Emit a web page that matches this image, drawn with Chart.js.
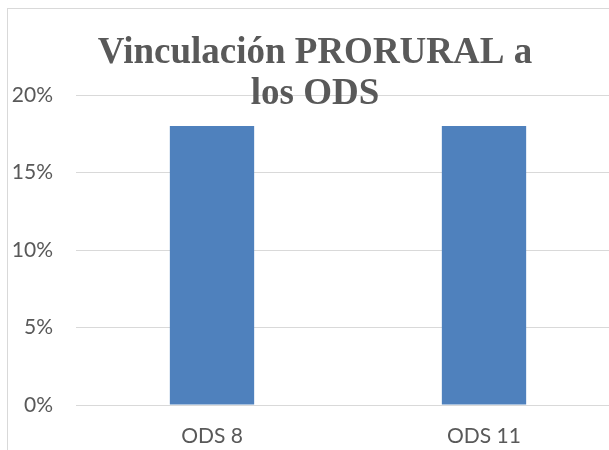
<!DOCTYPE html>
<html>
<head>
<meta charset="utf-8">
<script src="https://cdn.jsdelivr.net/npm/chart.js@4/dist/chart.umd.min.js"></script>
<style>
  html, body { margin: 0; padding: 0; background: #fff; overflow: hidden; }
  #caja { position: absolute; left: 7px; top: 8px; width: 614px; height: 460px; border: 1px solid #d9d9d9; }
</style>
</head>
<body>
<div id="caja"><canvas id="grafico" width="614" height="460"></canvas></div>
<script>
// Datos del gráfico
const categorias = ['ODS 8', 'ODS 11'];
const valores = [0.18, 0.18];
const tituloLineas = ['Vinculación PRORURAL a', 'los ODS'];

const gris = '#595959';
const fuenteTitulo = 'bold 37px "Liberation Serif", "Times New Roman", serif';

// Título dibujado encima del área del gráfico (se superpone a la línea del 20%)
const tituloPlugin = {
  id: 'tituloPlugin',
  afterDraw(chart) {
    const ctx = chart.ctx;
    ctx.save();
    ctx.font = fuenteTitulo;
    ctx.fillStyle = gris;
    ctx.textAlign = 'center';
    ctx.textBaseline = 'alphabetic';
    const cx = chart.width / 2;
    ctx.fillText(tituloLineas[0], cx, 54);
    ctx.fillText(tituloLineas[1], cx, 95);
    ctx.restore();
  }
};

function crearGrafico() {
  const ctx = document.getElementById('grafico').getContext('2d');
  new Chart(ctx, {
    type: 'bar',
    data: {
      labels: categorias,
      datasets: [{
        data: valores,
        backgroundColor: '#4f81bd',
        borderWidth: 0,
        categoryPercentage: 1,
        barPercentage: 0.31
      }]
    },
    options: {
      responsive: false,
      animation: false,
      layout: { padding: { left: 0, top: 86, right: 2, bottom: 0 } },
      plugins: {
        legend: { display: false },
        title: { display: false },
        tooltip: { enabled: false }
      },
      scales: {
        x: {
          grid: { display: false, drawTicks: false },
          border: { display: false },
          ticks: { color: gris, font: { family: 'Lato', size: 21 }, padding: 19 },
          afterFit(scale) { scale.height = 64; }
        },
        y: {
          min: 0,
          max: 0.2,
          grid: { color: '#d9d9d9', lineWidth: 1, drawTicks: false },
          border: { display: false },
          ticks: {
            stepSize: 0.05,
            color: gris,
            font: { family: 'Lato', size: 21 },
            padding: 23,
            callback: v => Math.round(v * 100) + '%'
          },
          afterFit(scale) { scale.width = 68; }
        }
      }
    },
    plugins: [tituloPlugin]
  });
}

Promise.all([
  document.fonts.load('21px Lato'),
  document.fonts.load(fuenteTitulo)
]).then(crearGrafico, crearGrafico);
</script>
</body>
</html>
